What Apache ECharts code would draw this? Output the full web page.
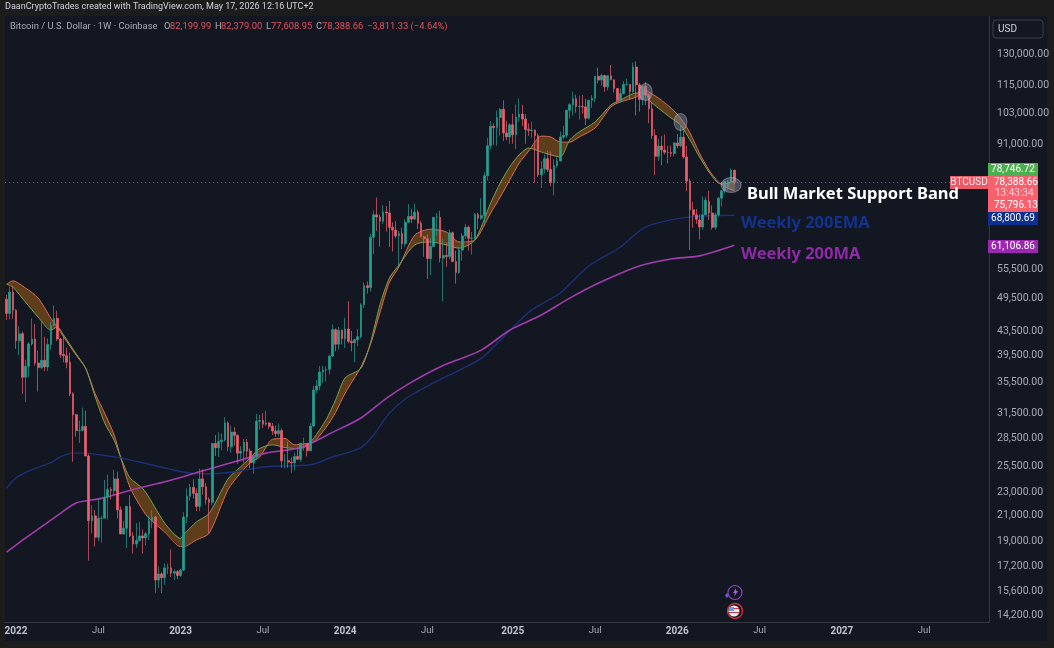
<!DOCTYPE html>
<html>
<head>
<meta charset="utf-8">
<style>html,body{margin:0;padding:0;background:#1c1c1c}#c{width:1054px;height:648px}</style>
<script src="https://cdn.jsdelivr.net/npm/echarts@6/dist/echarts.min.js"></script>
</head>
<body>
<div id="c"></div>
<script>
// Weekly candles from 2021-12-13 to 2026-05-11: [open, high, low, close]
const weeklyOHLC = [
[49400,50200,45500,46700],[46700,51900,45600,50800],[50800,52100,45700,47300],
[47300,47500,40600,41900],[41900,44400,39600,43100],[43100,43500,34000,36300],[36300,38900,32900,37900],
[37900,41700,36300,41400],[41400,45800,41100,42200],[42200,44800,38000,38400],[38400,40300,34300,37700],
[37700,45400,37400,38800],[38800,42600,37200,37800],[37800,42300,37200,41300],[41300,45100,40500,44500],
[44500,48200,44400,45800],[45800,47200,41900,42200],[42200,42400,39200,39700],[39700,42900,38500,39500],
[39500,40800,37600,38500],[38500,40000,33700,34000],[34000,34200,26000,31300],[31300,31400,28700,29400],
[29400,30600,28000,29450],[29450,32200,29300,29900],[29900,31800,26600,26600],[26600,26800,17600,20600],
[20600,21900,19600,21000],[21000,21500,18600,19300],[19300,22500,19000,20800],[20800,21000,18900,20800],
[20800,24200,20800,22600],[22600,24700,20700,23300],[23300,23500,22400,23200],[23200,25200,22700,24300],
[24300,25000,20800,21500],[21500,21800,19600,19550],[19550,20600,19500,20000],[20000,21860,18500,21800],
[21800,22800,19300,19400],[19400,19700,18100,18800],[18800,20400,18500,19050],[19050,20500,19000,19400],
[19400,19900,18100,19250],[19250,19700,18700,19570],[19570,21000,19100,20600],[20600,21500,20000,20900],
[20900,21000,15500,16300],[16300,17200,15800,16700],[16700,16800,15480,16450],[16450,17400,16000,17100],
[17100,17400,16700,17100],[17100,18400,16500,16750],[16750,17000,16300,16850],[16850,16950,16350,16600],
[16600,17050,16500,16950],[16950,21300,16900,20900],[20900,23400,20400,22700],[22700,23800,22300,23500],
[23500,24250,22500,22950],[22950,23400,21400,21800],[21800,25300,21400,24300],[24300,25250,22800,23550],
[23550,23900,21950,22400],[22400,22600,19600,22150],[22150,28000,21900,27950],[27950,28900,26600,27480],
[27480,29200,26500,28170],[28170,29100,27200,28320],[28320,31000,28170,30300],[30300,30500,27100,27590],
[27590,30000,26950,29230],[29230,29800,27700,28850],[28850,29000,25800,26900],[26900,27650,26350,27100],
[27100,28450,25900,28080],[28080,28450,26500,27120],[27120,27400,25350,25900],[25900,26800,24800,26500],
[26500,31400,26250,30500],[30500,31300,29500,30600],[30600,31500,29700,30150],[30150,31800,29950,30300],
[30300,30400,29600,29900],[29900,30300,28900,29350],[29350,30000,28650,29050],[29050,30250,28700,29400],
[29400,29650,25400,26100],[26100,26800,25350,26100],[26100,28150,25400,25950],[25950,26450,24900,25900],
[25900,26950,25150,26550],[26550,27500,26400,26250],[26250,28050,26000,27950],[27950,28600,27150,27950],
[27950,28000,26550,27150],[27150,30300,27150,29950],[29950,35100,29800,34500],[34500,35900,34050,35050],
[35050,37950,34500,37050],[37050,37950,35500,37350],[37350,37900,35700,37450],[37450,39700,36700,39450],
[39450,44700,39400,43800],[43800,44000,40200,41350],[41350,44300,40500,43700],[43700,43800,41300,42250],
[42250,45900,40750,43900],[43900,49000,41500,41800],[41800,43600,40200,41600],[41600,42250,38500,42100],
[42100,43900,41000,42600],[42600,48600,42300,48300],[48300,52800,47700,52100],[52100,53000,50500,51700],
[51700,64000,50900,63100],[63100,70100,59000,68900],[68900,73800,64600,68300],[68300,68950,60800,67200],
[67200,71600,66500,69700],[69700,71300,64500,69400],[69400,72800,60700,65600],[65600,66900,59600,64900],
[64900,67200,62800,63400],[63400,64700,56500,64000],[64000,65500,60200,61500],[61500,67700,60800,66900],
[66900,71900,66700,68500],[68500,70600,66700,67750],[67750,72000,67500,69650],[69650,70200,65100,66650],
[66650,67300,63400,63200],[63200,63400,58400,62700],[62700,63800,53500,58000],[58000,62800,54300,60800],
[60800,68400,60700,68200],[68200,69400,63500,68250],[68250,70000,57100,58100],[58100,62700,49000,58700],
[58700,61800,56100,58450],[58450,65000,57800,64200],[64200,64500,57200,57300],[57300,59800,52500,54900],
[54900,60700,54600,59950],[59950,64100,57500,63400],[63400,66500,62700,65600],[65600,66000,59800,62800],
[62800,64400,58900,62900],[62900,69400,62300,69000],[69000,69500,65100,68000],[68000,73600,67500,68750],
[68750,81500,66800,80400],[80400,93400,78900,90500],[90500,99800,89300,97700],[97700,98900,90800,97200],
[97200,104000,90500,101200],[101200,105000,94200,104500],[104500,108300,92200,95200],[95200,99900,92500,93700],
[93700,98900,91200,98300],[98300,102700,91200,94500],[94500,106500,89300,101300],[101300,109100,99500,102600],
[102600,106400,97800,100600],[100600,102500,91200,96500],[96500,98800,94100,96100],[96100,99500,93400,96300],
[96300,96500,78200,94200],[94200,95000,80100,80700],[80700,85300,76600,82600],[82600,87400,81100,86000],
[86000,88800,81600,82400],[82400,88500,77100,78300],[78300,85800,74400,83700],[83700,86500,83100,85200],
[85200,95700,85100,93700],[93700,97900,92800,94300],[94300,104300,93300,104100],[104100,107100,100700,106450],
[106450,112000,102000,109000],[109000,110700,103100,105700],[105700,110400,100400,105700],[105700,110600,102700,105500],
[105500,108900,98200,100900],[100900,108500,100400,108300],[108300,110500,105100,109200],[109200,119000,107500,119100],
[119100,123200,115700,117300],[117300,120200,114700,119400],[119400,119800,112000,114200],[114200,119300,112600,119300],
[119300,124500,117200,117400],[117400,117600,111700,113500],[113500,113500,107400,108300],[108300,113400,107300,111200],
[111200,116800,110800,115300],[115300,118000,114800,115300],[115300,115400,108700,112100],[112100,125700,111600,123500],
[123500,126200,102000,115100],[115100,116000,103500,108600],[108600,114000,106200,114500],[114500,116400,106300,110500],
[110500,111000,98900,104700],[104700,107500,93000,94200],[94200,96600,80600,86800],[86800,93000,85300,90400],
[90400,94100,83800,89000],[89000,94600,87500,88200],[88200,90500,84400,88100],[88100,90500,86500,87800],
[87800,91800,86800,91500],
[91500,94800,89600,90500],[90500,97900,90000,93600],[93600,96000,86000,86600],[86600,90500,75700,78700],
[78700,79500,60000,70300],[70300,72500,65500,68900],[68900,70500,66500,67700],[67500,69000,62500,65700],
[65700,74100,65000,68900],[68900,74000,68900,73000],[72600,75800,67500,69400],[69400,71500,65000,65600],
[65600,69500,65000,68900],[68900,73900,68400,73600],[73600,76000,71200,75800],[75800,78900,75000,78500],
[77000,79000,75800,78500],[78500,82800,78000,82200],[82199.99,82379,77608.95,78388.66]
];

// Bull Market Support Band sample weeks, 20-week SMA, 21-week EMA
const bandWeeks = [0,2,6,10,14,16,18,22,25,28,31,34,36,39,43,45,50,55,56,60,64,70,74,77,80,84,88,91,94,97,101,104,107,112,115,118,121,124,129,134,139,143,148,153,156,159,162,165,169,172,175,178,181,186,191,194,199,202,203,206,210,213,216,219,222,225,227,230];
const smaBand = [52400,53100,51600,49600,45800,44300,42600,39600,37600,34000,31500,28900,26500,23500,21500,20800,19700,18600,18600,19100,19600,23300,24900,25900,26500,28400,28500,27800,27900,28100,29800,31600,34100,37800,41300,46800,52800,56100,63600,65100,64400,61900,62400,69400,73900,79000,84500,88600,94000,93700,91800,91800,93700,97100,105500,107600,109700,112800,111900,109300,105000,101000,95200,87900,82200,78400,77000,75800];
const emaBand = [52400,51800,48800,46000,43700,44300,42900,39800,37600,33600,30300,28300,26500,24400,23400,22600,20400,19200,19500,20500,21200,24300,25500,26400,27400,27800,27500,27400,27500,28500,30700,33200,36200,37600,41600,48300,53700,56500,61200,61900,61200,60400,62400,72200,78100,83200,87300,89700,88300,87300,86600,92600,95600,99400,106300,108400,111400,111400,108400,105000,101000,98200,92600,86600,81600,78100,77900,78750];

// Weekly 200 EMA and 200 MA
const ema200Weeks = [0,3,8,14,17,21,24,30,36,43,51,57,64,72,82,96,103,112,116,121,127,135,143,150,156,165,170,175,184,194,202,213,221,230];
const ema200 = [23400,24400,25200,25900,26500,26900,26900,26700,26400,25900,25300,24900,24800,25000,25500,25700,26500,27500,28900,31500,33600,35500,37300,39100,42000,46900,48800,50600,56300,60700,65700,68000,68600,68800];
const ma200Weeks = [0,4,11,17,22,30,40,51,61,72,82,93,103,112,120,128,137,150,159,169,178,187,200,210,219,230];
const ma200 = [18200,18900,20100,21200,22100,22500,23300,24100,25000,26000,26900,27500,29200,30900,33400,35600,37800,40400,43700,46400,49600,52600,56300,57900,58600,61100];

// Hand-drawn ellipses: week, price, width, height
const circleNotes = [[202,111900,13,17],[213,99400,13,17],[229,77500,20,15]];

const priceTicks = [130000,115000,103000,91000,55500,49500,43500,39500,35500,31500,28500,25500,23000,21000,19000,17200,15600,14200];
const timeTicks = {3:'2022',29:'Jul',55:'2023',81:'Jul',107:'2024',133:'Jul',160:'2025',186:'Jul',212:'2026',238:'Jul',264:'2027',290:'Jul'};
const weekCount = 311;
const lastClose = 78388.66;
const title = 'DaanCryptoTrades created with TradingView.com, May 17, 2026 12:16 UTC+2';

const weeks = [];
for (let i = 0; i < weekCount; i++) weeks.push(String(i));
const pairs = (xs, ys) => xs.map((x, i) => [x, ys[i]]);
const FONT = 'Roboto, sans-serif';
const NOTE = '"Noto Sans", sans-serif';
const UP = '#24a08f', DOWN = '#ee5f6d';
const BAND_SMOOTH = 0.25;

function tag(x, y, w, h, fill, text, textColor) {
  const out = [{type:'rect', z:60, silent:true, shape:{x, y, width:w, height:h}, style:{fill}}];
  if (text) out.push({type:'text', z:61, silent:true, x:x+w/2, y:y+h/2, style:{text, fill:textColor||'#fff', font:'10px '+FONT, align:'center', verticalAlign:'middle'}});
  return out;
}
const label = (x,y,text,fill,font) => ({type:'text', z:70, silent:true, x, y, style:{text, fill, font, verticalAlign:'middle'}});
const HDR = '9.4px '+FONT, GREY = '#a8abb5', RED = '#e2505e';

const graphics = [
  {type:'rect', z:-10, silent:true, shape:{x:5,y:16,width:1042,height:625}, style:{fill:'#131722'}},
  label(5,7,title,'#d1d4dc','9px '+FONT),
  label(10,27,'Bitcoin / U.S. Dollar · 1W · Coinbase',GREY,HDR),
  label(164,27,'O',GREY,HDR), label(170,27,'82,199.99',RED,HDR),
  label(215,27,'H',GREY,HDR), label(221,27,'82,379.00',RED,HDR),
  label(266,27,'L',GREY,HDR), label(271,27,'77,608.95',RED,HDR),
  label(316,27,'C',GREY,HDR), label(322,27,'78,388.66',RED,HDR),
  label(367,27,'−3,811.33 (−4.64%)',RED,HDR),
  {type:'rect', z:60, silent:true, shape:{x:993,y:20,width:50,height:18,r:3}, style:{fill:'#131722', stroke:'#3a3e49', lineWidth:1}},
  label(998,29,'USD','#d1d4dc','10px '+FONT),
  ...tag(988,163,50,13,'#4caf50','78,746.72'),
  ...tag(988,176,50,36,'#f7606c'),
  label(994,182,'78,388.66','#fff','10px '+FONT),
  label(995,193,'13:43:34','#ffd0d4','10px '+FONT),
  label(994,205,'75,796.13','#fff','10px '+FONT),
  ...tag(988,212,50,13,'#0d2f8f','68,800.69'),
  ...tag(988,240,50,13,'#9c27b0','61,106.86'),
  ...tag(950,176,38,13,'#ec5a68','BTCUSD','#ffe6e8'),
  label(747,194,'Bull Market Support Band','#ffffff','bold 16.5px '+NOTE),
  label(741,223,'Weekly 200EMA','#12328f','bold 16.5px '+NOTE),
  label(741,254,'Weekly 200MA','#8e2aa6','bold 16.5px '+NOTE),
  {type:'circle', z:70, silent:true, shape:{cx:735,cy:592.5,r:7}, style:{fill:'#131722', stroke:'#8e44c9', lineWidth:1.2}},
  {type:'polygon', z:71, silent:true, shape:{points:[[736,588],[733,593],[735,593],[734,597],[738,591],[736,591]]}, style:{fill:'#a35be0'}},
  {type:'polygon', z:71, silent:true, shape:{points:[[727,593],[729,595.5],[727,598],[725,595.5]]}, style:{fill:'#7a4fe0'}},
  {type:'circle', z:70, silent:true, shape:{cx:735,cy:611,r:7.5}, style:{fill:'#131722', stroke:'#d32f3f', lineWidth:1.4}},
  {type:'circle', z:71, silent:true, shape:{cx:734,cy:611,r:5.5}, style:{fill:'#f0f0f0'}},
  {type:'rect', z:72, silent:true, shape:{x:729,y:607,width:5,height:4}, style:{fill:'#5aa0e8'}},
  {type:'rect', z:72, silent:true, shape:{x:734,y:608,width:5,height:1}, style:{fill:'#d32f3f'}},
  {type:'rect', z:72, silent:true, shape:{x:729,y:612,width:10,height:1}, style:{fill:'#d32f3f'}}
];

const option = {
  backgroundColor:'#1c1c1c',
  animation:false,
  grid:{left:5, top:16, width:984, height:606, containLabel:false},
  xAxis:{
    type:'category', data:weeks, boundaryGap:true,
    axisLine:{show:true, lineStyle:{color:'#363a45'}}, axisTick:{show:false},
    splitLine:{show:false},
    axisLabel:{
      interval:(i)=>timeTicks[i]!==undefined,
      formatter:(v)=>{const t=timeTicks[v]; return t.length===4?'{y|'+t+'}':'{m|'+t+'}';},
      margin:4,
      rich:{y:{color:'#c0c3cc', fontWeight:'bold', fontSize:10, fontFamily:FONT}, m:{color:'#a8abb5', fontSize:9.5, fontFamily:FONT}}
    }
  },
  yAxis:{
    type:'log', logBase:10, position:'right', min:13813, max:151040,
    axisLine:{show:true, lineStyle:{color:'#363a45'}}, axisTick:{show:false}, splitLine:{show:false},
    axisLabel:{customValues:priceTicks, color:'#a8abb5', fontSize:10.5, fontFamily:FONT, margin:8,
      formatter:(v)=>Number(v).toLocaleString('en-US',{minimumFractionDigits:2, maximumFractionDigits:2})}
  },
  series:[
    {type:'custom', coordinateSystem:'cartesian2d', z:2, silent:true, data:[[0,50000]], clip:false,
      renderItem:(p,api)=>{
        const top = bandWeeks.map((w,i)=>api.coord([w,smaBand[i]]));
        const bot = bandWeeks.map((w,i)=>api.coord([w,emaBand[i]]));
        return {type:'polygon', shape:{points:top.concat(bot.reverse()), smooth:BAND_SMOOTH}, style:{fill:'rgba(124,78,24,0.72)', stroke:null}};
      }},
    {type:'line', name:'SMA', z:3, silent:true, smooth:BAND_SMOOTH, data:pairs(bandWeeks,smaBand), showSymbol:false, lineStyle:{color:'#d96a55', width:1}},
    {type:'line', name:'EMA', z:3, silent:true, smooth:BAND_SMOOTH, data:pairs(bandWeeks,emaBand), showSymbol:false, lineStyle:{color:'#78a04c', width:1}},
    {type:'line', name:'200EMA', z:3, silent:true, smooth:0.3, data:pairs(ema200Weeks,ema200), showSymbol:false, lineStyle:{color:'#1b3078', width:1.4}},
    {type:'line', name:'200MA', z:3, silent:true, smooth:0.3, data:pairs(ma200Weeks,ma200), showSymbol:false, lineStyle:{color:'#a23cae', width:1.6}},
    {type:'candlestick', z:4, silent:true, barWidth:2.2,
      data:weeklyOHLC.map(r=>[r[0],r[3],r[2],r[1]]),
      itemStyle:{color:UP, color0:DOWN, borderColor:UP, borderColor0:DOWN, borderWidth:0.7},
      markLine:{silent:true, symbol:'none', animation:false, label:{show:false},
        lineStyle:{color:'#f7606c', type:[1,3], width:1, opacity:0.7}, data:[{yAxis:lastClose}]}},
    {type:'scatter', z:5, silent:true, data:circleNotes.map(c=>({value:[c[0],c[1]], symbolSize:[c[2],c[3]]})), symbol:'circle',
      itemStyle:{color:'rgba(140,148,168,0.55)', borderColor:'rgba(210,210,220,0.5)', borderWidth:1}}
  ],
  graphic:{elements:graphics}
};
echarts.init(document.getElementById('c'),null,{renderer:'canvas'}).setOption(option);
</script>
</body>
</html>
